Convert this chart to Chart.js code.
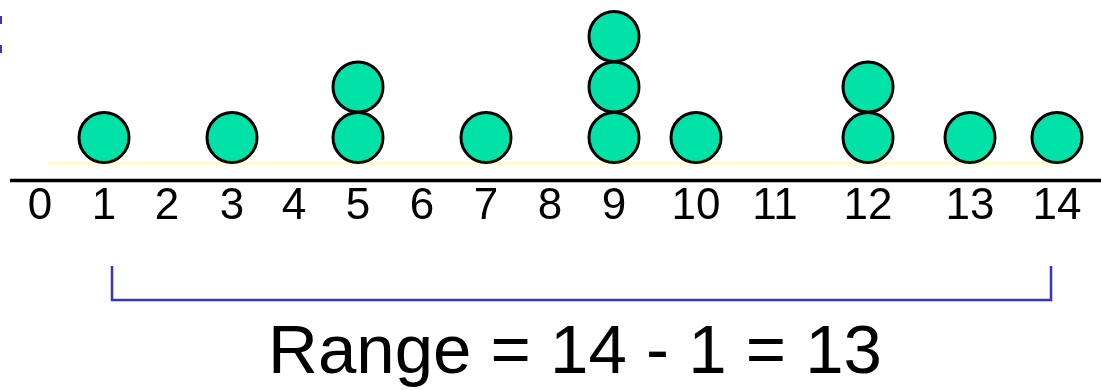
<!DOCTYPE html>
<html>
<head>
<meta charset="utf-8">
<script src="https://cdn.jsdelivr.net/npm/chart.js@4/dist/chart.umd.min.js"></script>
<style>
  html, body { margin: 0; padding: 0; background: #fff; }
  #wrap { width: 1101px; height: 390px; }
</style>
</head>
<body>
<div id="wrap"><canvas id="myChart"></canvas></div>
<script>
// observations on the number line
const values = [1, 3, 5, 5, 7, 9, 9, 9, 10, 12, 12, 13, 14];
const tickLabels = ["0", "1", "2", "3", "4", "5", "6", "7", "8", "9", "10", "11", "12", "13", "14"];

// the slide's number line is not evenly spaced, so ticks sit where they were drawn
const tickSpots = [40, 104, 167, 232, 294, 358, 422, 486, 550, 614, 696, 775, 868, 970, 1057];

// stack repeated values on top of each other
const seen = {};
const dots = values.map((v) => {
  seen[v] = (seen[v] || 0) + 1;
  return { x: v, y: seen[v] };
});

const lo = Math.min(...values);
const hi = Math.max(...values);
const rangeText = "Range = " + hi + " - " + lo + " = " + (hi - lo);

class WarpScale extends Chart.LinearScale {
  getPixelForValue(value) {
    const i = Math.max(0, Math.min(tickSpots.length - 2, Math.floor(value)));
    return tickSpots[i] + (tickSpots[i + 1] - tickSpots[i]) * (value - i);
  }
}
WarpScale.id = "warp";
WarpScale.defaults = Chart.LinearScale.defaults;
Chart.register(WarpScale);

const decor = {
  id: "decor",
  beforeDatasetsDraw(chart) {
    const c = chart.ctx;
    const x = chart.scales.x;
    const y = chart.scales.y;
    c.save();
    // faint baseline under the dots
    c.strokeStyle = "#FFF9C8";
    c.lineWidth = 3;
    c.beginPath();
    c.moveTo(48, y.getPixelForValue(0.49));
    c.lineTo(1068, y.getPixelForValue(0.49));
    c.stroke();
    // number line
    c.strokeStyle = "#000";
    c.lineWidth = 3.5;
    c.beginPath();
    c.moveTo(10, chart.chartArea.bottom + 0.5);
    c.lineTo(1101, chart.chartArea.bottom + 0.5);
    c.stroke();
    // bracket from min to max
    const bl = x.getPixelForValue(lo) + 8;
    const br = x.getPixelForValue(hi) - 6;
    c.strokeStyle = "#3535CC";
    c.lineWidth = 2.5;
    c.beginPath();
    c.moveTo(bl, 266);
    c.lineTo(bl, 300);
    c.lineTo(br, 300);
    c.lineTo(br, 266);
    c.stroke();
    // cut-off marks at the top left
    c.fillStyle = "#3535CC";
    c.fillRect(0, 16, 2, 8);
    c.fillRect(0, 45, 2, 8);
    // caption
    c.fillStyle = "#000";
    c.font = '69px "Liberation Sans", Arial, sans-serif';
    c.textAlign = "center";
    c.textBaseline = "alphabetic";
    c.fillText(rangeText, 575, 373);
    c.restore();
  },
};

new Chart(document.querySelector("#myChart"), {
  type: "scatter",
  data: {
    datasets: [
      {
        data: dots,
        pointRadius: 25,
        pointHoverRadius: 25,
        pointBackgroundColor: "#00E2A8",
        pointBorderColor: "#000",
        pointBorderWidth: 3,
        pointHoverBorderWidth: 3,
        clip: false,
      },
    ],
  },
  options: {
    responsive: true,
    maintainAspectRatio: false,
    animation: false,
    layout: { padding: 0, autoPadding: false },
    scales: {
      x: {
        type: "warp",
        min: 0,
        max: 14,
        grid: { display: false, drawTicks: false },
        border: { display: false },
        afterFit: (s) => { s.height = 210; },
        ticks: {
          stepSize: 1,
          autoSkip: false,
          maxRotation: 0,
          padding: 0,
          color: "#000",
          font: { size: 44, family: '"Liberation Sans", Arial, sans-serif' },
          callback: (v) => tickLabels[v],
        },
      },
      y: {
        display: false,
        min: 0.16,
        max: 3.72,
      },
    },
    plugins: {
      legend: { display: false },
      tooltip: { enabled: false },
    },
  },
  plugins: [decor],
});
</script>
</body>
</html>
